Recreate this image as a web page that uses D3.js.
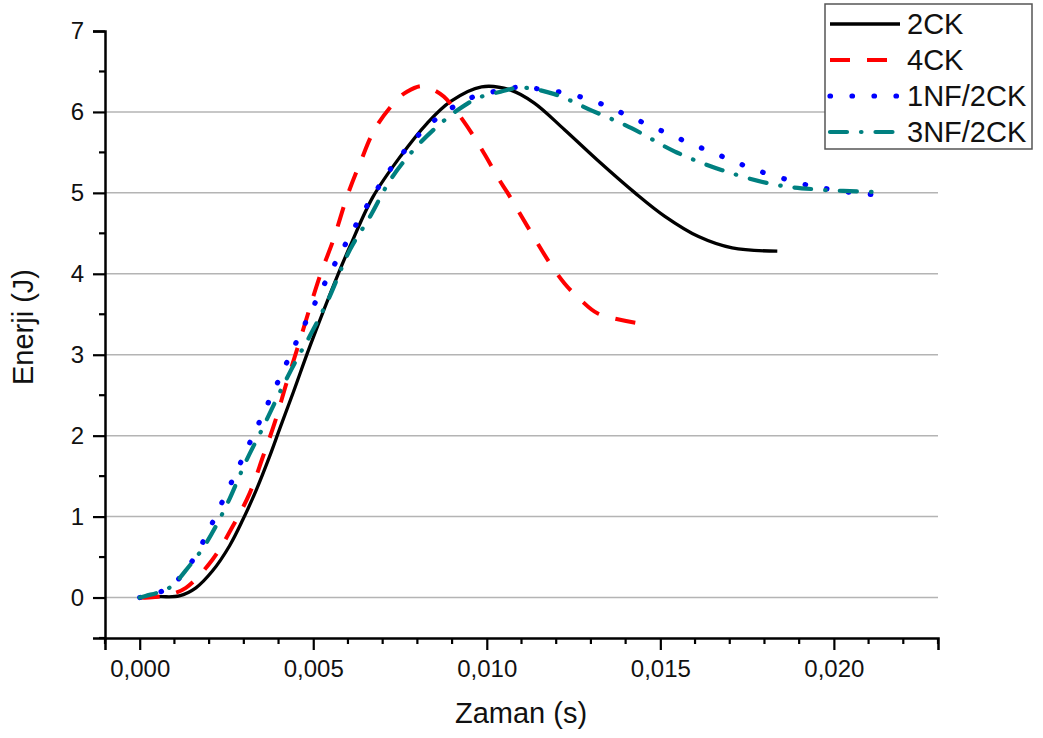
<!DOCTYPE html>
<html>
<head>
<meta charset="utf-8">
<script src="https://cdn.jsdelivr.net/npm/d3@7"></script>
<style>
  body { margin: 0; background: #fff; }
  text { font-family: "Liberation Sans", Arial, sans-serif; fill: #111; }
</style>
</head>
<body>
<script>
// chart size
var width = 1043,
    height = 738;

// plot area edges (pixels)
var plotLeft = 105, plotRight = 938, plotTop = 31, plotBottom = 638;

// series names shown in the legend
var seriesNames = ['2CK', '4CK', '1NF/2CK', '3NF/2CK'];

// 2CK
var time2CK = [0, 0.00056, 0.00114, 0.00162, 0.0021, 0.00259, 0.00297, 0.00336, 0.00374, 0.00403, 0.00442, 0.0049, 0.00572, 0.00606, 0.00672, 0.00751, 0.00828, 0.00896, 0.00985, 0.01069, 0.01137, 0.01224, 0.0132, 0.01427, 0.01513, 0.0161, 0.01707, 0.01837];
var energy2CK = [0, 0.01, 0.02, 0.12, 0.33, 0.64, 0.96, 1.33, 1.74, 2.08, 2.53, 3.1, 4.0, 4.34, 4.95, 5.45, 5.86, 6.13, 6.31, 6.27, 6.11, 5.78, 5.4, 5.0, 4.71, 4.46, 4.32, 4.28];

// 4CK
var time4CK = [0, 0.00027, 0.0008, 0.00133, 0.0021, 0.00268, 0.00317, 0.00355, 0.00389, 0.00423, 0.00456, 0.00519, 0.00558, 0.00597, 0.00635, 0.00679, 0.00741, 0.0077, 0.0081, 0.00838, 0.00876, 0.00934, 0.00992, 0.01036, 0.0106, 0.01118, 0.01176, 0.01224, 0.0127, 0.0132, 0.01436];
var energy4CK = [0, 0, 0.03, 0.12, 0.47, 0.88, 1.29, 1.74, 2.16, 2.65, 3.1, 3.97, 4.42, 4.95, 5.37, 5.8, 6.15, 6.25, 6.32, 6.29, 6.19, 5.88, 5.49, 5.16, 5.0, 4.58, 4.17, 3.88, 3.68, 3.51, 3.39];

// 1NF/2CK
var time1NF = [0, 0.00065, 0.00119, 0.00157, 0.00191, 0.0022, 0.00278, 0.00334, 0.00389, 0.00445, 0.00534, 0.00597, 0.00659, 0.00732, 0.00823, 0.00876, 0.00939, 0.01002, 0.01074, 0.01137, 0.01205, 0.01267, 0.01335, 0.01393, 0.01455, 0.01518, 0.01581, 0.01644, 0.01707, 0.0177, 0.01837, 0.0191, 0.01967, 0.0204, 0.02107];
var energy1NF = [0, 0.08, 0.26, 0.49, 0.76, 1.02, 1.55, 2.07, 2.58, 3.1, 3.89, 4.4, 4.87, 5.35, 5.8, 5.98, 6.15, 6.23, 6.3, 6.29, 6.25, 6.19, 6.09, 5.98, 5.86, 5.74, 5.62, 5.51, 5.4, 5.29, 5.2, 5.11, 5.06, 5.01, 4.98];

// 3NF/2CK
var time3NF = [0, 0.00017, 0.00085, 0.00143, 0.00191, 0.00249, 0.00307, 0.00355, 0.00403, 0.00452, 0.0049, 0.00543, 0.00606, 0.00664, 0.00722, 0.00789, 0.00857, 0.00915, 0.00973, 0.0104, 0.01098, 0.01195, 0.01301, 0.01417, 0.01542, 0.01678, 0.01832, 0.01958, 0.02121];
var energy3NF = [0, 0.02, 0.12, 0.39, 0.67, 1.13, 1.69, 2.1, 2.53, 2.94, 3.23, 3.68, 4.3, 4.71, 5.16, 5.53, 5.82, 6.02, 6.17, 6.25, 6.3, 6.22, 6.02, 5.8, 5.51, 5.28, 5.1, 5.04, 5.01];

// axis ticks
var xMajor = [0, 0.005, 0.010, 0.015, 0.020];
var yMajor = [0, 1, 2, 3, 4, 5, 6, 7];

var svg = d3.select('body')
  .append('svg')
  .attr('width', width)
  .attr('height', height);

var x = d3.scaleLinear().domain([-0.001, 0.023]).range([plotLeft, plotRight]);
var y = d3.scaleLinear().domain([-0.5, 7]).range([plotBottom, plotTop]);

// minor ticks every 0.001 s and every 0.5 J
var xMinor = d3.range(-1, 24).map(function(d) { return d / 1000; })
  .filter(function(d) { return xMajor.every(function(m) { return Math.abs(m - d) > 1e-9; }); });
var yMinor = d3.range(-0.5, 7, 1);

// grid lines
svg.append('g')
  .selectAll('line')
  .data(yMajor.filter(function(d) { return d < 7; }))
  .enter().append('line')
  .attr('x1', plotLeft).attr('x2', plotRight)
  .attr('y1', function(d) { return y(d); })
  .attr('y2', function(d) { return y(d); })
  .attr('stroke', '#b4b4b4')
  .attr('stroke-width', 1.5);

// series
var series = [
  { name: seriesNames[0], t: time2CK, e: energy2CK, color: '#000000', width: 3.3, dash: null, cap: 'butt' },
  { name: seriesNames[1], t: time4CK, e: energy4CK, color: '#ff0000', width: 4, dash: '20,17', cap: 'butt' },
  { name: seriesNames[2], t: time1NF, e: energy1NF, color: '#0000ff', width: 5.2, dash: '0.5,21.5', cap: 'round' },
  { name: seriesNames[3], t: time3NF, e: energy3NF, color: '#008080', width: 4.2, dash: '17,14,0.5,14', cap: 'round' }
];

var line = d3.line()
  .x(function(d) { return x(d[0]); })
  .y(function(d) { return y(d[1]); })
  .curve(d3.curveCatmullRom.alpha(0.5));

svg.append('g')
  .selectAll('path')
  .data(series)
  .enter().append('path')
  .attr('d', function(s) { return line(d3.zip(s.t, s.e)); })
  .attr('fill', 'none')
  .attr('stroke', function(s) { return s.color; })
  .attr('stroke-width', function(s) { return s.width; })
  .attr('stroke-dasharray', function(s) { return s.dash; })
  .attr('stroke-linecap', function(s) { return s.cap; })
  .attr('stroke-linejoin', 'round');

// x axis
var fmt = d3.format('.3f');
var xAxis = svg.append('g').attr('transform', 'translate(0,' + plotBottom + ')');
xAxis.call(d3.axisBottom(x).tickValues(xMajor).tickSize(12).tickPadding(10)
  .tickFormat(function(d) { return fmt(d).replace('.', ','); }));
xAxis.append('g').attr('class', 'minor').selectAll('line').data(xMinor).enter().append('line')
  .attr('x1', function(d) { return x(d); }).attr('x2', function(d) { return x(d); })
  .attr('y1', 0).attr('y2', 6);

// y axis
var yAxis = svg.append('g').attr('transform', 'translate(' + plotLeft + ',0)');
yAxis.call(d3.axisLeft(y).tickValues(yMajor).tickSize(12).tickPadding(9));
yAxis.append('g').attr('class', 'minor').selectAll('line').data(yMinor).enter().append('line')
  .attr('y1', function(d) { return y(d); }).attr('y2', function(d) { return y(d); })
  .attr('x1', 0).attr('x2', -6);

svg.selectAll('.domain').attr('stroke', '#000').attr('stroke-width', 2.5);
svg.selectAll('.tick line, .minor line').attr('stroke', '#000').attr('stroke-width', 2.2);
svg.selectAll('.tick text')
  .style('font-size', '24px')
  .style('font-family', '"Liberation Sans", Arial, sans-serif')
  .attr('fill', '#111');

// axis titles
svg.append('text')
  .attr('x', 521).attr('y', 723)
  .attr('text-anchor', 'middle')
  .style('font-size', '29px')
  .text('Zaman (s)');

svg.append('text')
  .attr('transform', 'translate(33,327) rotate(-90)')
  .attr('text-anchor', 'middle')
  .style('font-size', '29px')
  .text('Enerji (J)');

// legend
var legend = svg.append('g').attr('class', 'legend');
legend.append('rect')
  .attr('x', 825).attr('y', 4)
  .attr('width', 207).attr('height', 145)
  .attr('fill', '#fff')
  .attr('stroke', '#555')
  .attr('stroke-width', 1.5);

var rowY = [24, 60, 96, 132];
var rows = legend.selectAll('g.row')
  .data(series)
  .enter().append('g')
  .attr('class', 'row')
  .attr('transform', function(s, i) { return 'translate(0,' + rowY[i] + ')'; });

rows.append('line')
  .attr('x1', 830).attr('x2', 900)
  .attr('y1', 0).attr('y2', 0)
  .attr('stroke', function(s) { return s.color; })
  .attr('stroke-width', function(s) { return s.width; })
  .attr('stroke-dasharray', function(s) { return s.dash; })
  .attr('stroke-linecap', function(s) { return s.cap; });

rows.append('text')
  .attr('x', 907).attr('y', 10)
  .style('font-size', '29px')
  .text(function(s) { return s.name; });
</script>
</body>
</html>
